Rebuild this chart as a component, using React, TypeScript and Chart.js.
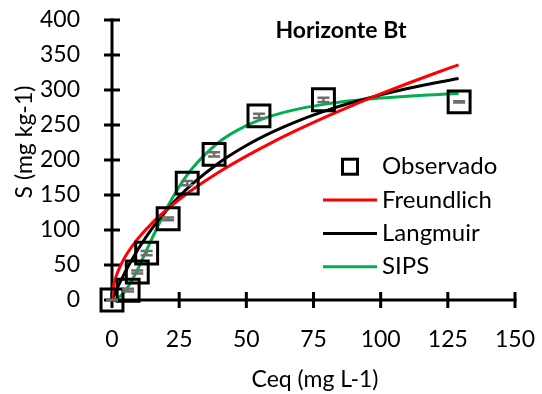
import React, { useEffect, useRef } from "react";
import { Chart, registerables } from "chart.js";

Chart.register(...registerables);

// Observed data
const obsCeq = [0, 6, 9.4, 12.9, 20.9, 28, 38, 54.7, 78.7, 129.2];
const obsS = [0, 14, 40, 67, 116, 167, 208, 263, 286, 283];
const obsSd = [0.5, 2, 2, 3, 2, 3, 3, 3, 3, 1];

// Fitted model curves
const curveCeq = [0, 0.5, 1, 2, 4, 6, 8, 10, 15, 20, 25, 30, 40, 50, 60, 70, 80, 90, 100, 110, 120, 129];
const freundlichS = [0, 18.9, 27.1, 38.8, 55.6, 68.6, 79.6, 89.3, 110.2, 127.9, 143.6, 157.8, 183.2, 205.6, 226.0, 244.7, 262.3, 278.8, 294.4, 309.3, 323.6, 336.0];
const langmuirS = [0, 4.4, 8.8, 17.2, 33.1, 47.8, 61.4, 74.2, 102.6, 126.8, 147.8, 166.1, 196.5, 220.7, 240.5, 257.0, 270.9, 282.8, 293.1, 302.1, 310.1, 316.4];
const sipsS = [0, 0.15, 0.6, 2.3, 8.9, 19.1, 32.2, 47.4, 88.7, 128.2, 161.7, 188.5, 226.0, 249.0, 263.7, 273.4, 280.2, 285.0, 288.5, 291.2, 293.3, 295.1];

const seriesNames = ["Observado", "Freundlich", "Langmuir", "SIPS"];
const seriesColors = ["#000000", "#FF0000", "#000000", "#00B050"];

const chartTitle = "Horizonte Bt";
const xTitle = "Ceq (mg L-1)";
const yTitle = "S (mg kg-1)";
const xMin = 0, xMax = 150, xStep = 25;
const yMin = 0, yMax = 400, yStep = 50;

const FONT = "Lato, 'Open Sans', sans-serif";

const decorPlugin = {
  id: "decor",
  beforeDatasetsDraw(chart: any) {
    const { ctx, scales } = chart;
    const x = scales.x, y = scales.y;
    const x0 = x.getPixelForValue(xMin);
    const y0 = y.getPixelForValue(yMin);
    const xEnd = x.getPixelForValue(xMax);
    const yTop = y.getPixelForValue(yMax);
    ctx.save();
    ctx.strokeStyle = "#000";
    ctx.lineWidth = 3;
    ctx.lineCap = "butt";
    ctx.beginPath();
    ctx.moveTo(x0, yTop - 1.5);
    ctx.lineTo(x0, y0 + 1.5);
    ctx.moveTo(x0 - 1.5, y0);
    ctx.lineTo(xEnd + 1.5, y0);
    ctx.stroke();
    ctx.beginPath();
    x.ticks.forEach((t: any) => {
      const px = x.getPixelForValue(t.value);
      ctx.moveTo(px, y0 - 8);
      ctx.lineTo(px, y0 + 8);
    });
    y.ticks.forEach((t: any) => {
      const py = y.getPixelForValue(t.value);
      ctx.moveTo(x0 - 8, py);
      ctx.lineTo(x0 + 8, py);
    });
    ctx.stroke();
    ctx.restore();
  },
  afterDatasetsDraw(chart: any) {
    const { ctx, scales } = chart;
    const x = scales.x, y = scales.y;
    ctx.save();
    // error bars
    ctx.strokeStyle = "#6E6E6E";
    ctx.lineWidth = 2.5;
    obsCeq.forEach((c, i) => {
      const px = x.getPixelForValue(c);
      const pyTop = y.getPixelForValue(obsS[i] + obsSd[i]);
      const pyBot = y.getPixelForValue(obsS[i] - obsSd[i]);
      ctx.beginPath();
      ctx.moveTo(px, pyTop);
      ctx.lineTo(px, pyBot);
      ctx.moveTo(px - 6, pyTop);
      ctx.lineTo(px + 6, pyTop);
      ctx.moveTo(px - 6, pyBot);
      ctx.lineTo(px + 6, pyBot);
      ctx.stroke();
    });

    // chart title
    ctx.fillStyle = "#000";
    ctx.font = `bold 23px ${FONT}`;
    ctx.textAlign = "center";
    ctx.textBaseline = "middle";
    ctx.fillText(chartTitle, 341, 31);

    // axis titles
    ctx.font = `23px ${FONT}`;
    ctx.fillText(xTitle, 315, 380);
    ctx.save();
    ctx.translate(25, 142);
    ctx.rotate(-Math.PI / 2);
    ctx.fillText(yTitle, 0, 0);
    ctx.restore();

    // legend
    ctx.textAlign = "left";
    ctx.font = `24px ${FONT}`;
    const rows = [166.7, 200, 233.5, 266.7];
    const sw = 15;
    ctx.strokeStyle = "#000";
    ctx.lineWidth = 3;
    ctx.strokeRect(350 - sw / 2, rows[0] - sw / 2, sw, sw);
    ctx.fillText(seriesNames[0], 382, rows[0]);
    for (let i = 1; i < 4; i++) {
      ctx.strokeStyle = seriesColors[i];
      ctx.lineWidth = 3;
      ctx.beginPath();
      ctx.moveTo(323, rows[i]);
      ctx.lineTo(377, rows[i]);
      ctx.stroke();
      ctx.fillText(seriesNames[i], 382, rows[i]);
    }
    ctx.restore();
  },
};

export default function App() {
  const ref = useRef<HTMLCanvasElement | null>(null);
  useEffect(() => {
    if (!ref.current) return;
    const toPts = (xs: number[], ys: number[]) => xs.map((v, i) => ({ x: v, y: ys[i] }));
    const curveDs = (idx: number, ys: number[]) => ({
      label: seriesNames[idx],
      data: toPts(curveCeq, ys),
      showLine: true,
      borderColor: seriesColors[idx],
      backgroundColor: seriesColors[idx],
      borderWidth: 3,
      pointRadius: 0,
      cubicInterpolationMode: "monotone" as const,
      order: 2,
    });
    const chart = new Chart(ref.current, {
      type: "scatter",
      data: {
        datasets: [
          {
            label: seriesNames[0],
            data: toPts(obsCeq, obsS),
            pointStyle: "rect",
            pointRadius: 15.5,
            pointBorderWidth: 3,
            borderColor: "#000",
            backgroundColor: "rgba(0,0,0,0)",
            showLine: false,
            clip: false,
            order: 1,
          },
          curveDs(1, freundlichS),
          curveDs(2, langmuirS),
          curveDs(3, sipsS),
        ],
      },
      plugins: [decorPlugin],
      options: {
        responsive: false,
        animation: false,
        layout: { padding: { top: 20, right: 27, left: 0, bottom: 0 }, autoPadding: false },
        plugins: {
          legend: { display: false },
          title: { display: false },
          tooltip: { enabled: false },
        },
        scales: {
          x: {
            type: "linear",
            min: xMin,
            max: xMax,
            grid: { display: false },
            border: { display: false },
            ticks: {
              stepSize: xStep,
              color: "#000",
              font: { family: FONT, size: 23 },
              padding: 18,
              maxRotation: 0,
            },
            afterFit: (s: any) => {
              s.height = 94;
              s.paddingLeft = 0;
              s.paddingRight = 0;
            },
          },
          y: {
            type: "linear",
            min: yMin,
            max: yMax,
            grid: { display: false },
            border: { display: false },
            ticks: {
              stepSize: yStep,
              color: "#000",
              font: { family: FONT, size: 23 },
              padding: 24,
            },
            afterFit: (s: any) => {
              s.width = 112;
              s.paddingTop = 0;
              s.paddingBottom = 0;
            },
          },
        },
      },
    });
    return () => chart.destroy();
  }, []);
  return (
    <div style={{ position: "absolute", left: 0, top: 0, width: 542, height: 394, background: "#fff" }}>
      <canvas ref={ref} width={542} height={394} />
    </div>
  );
}
